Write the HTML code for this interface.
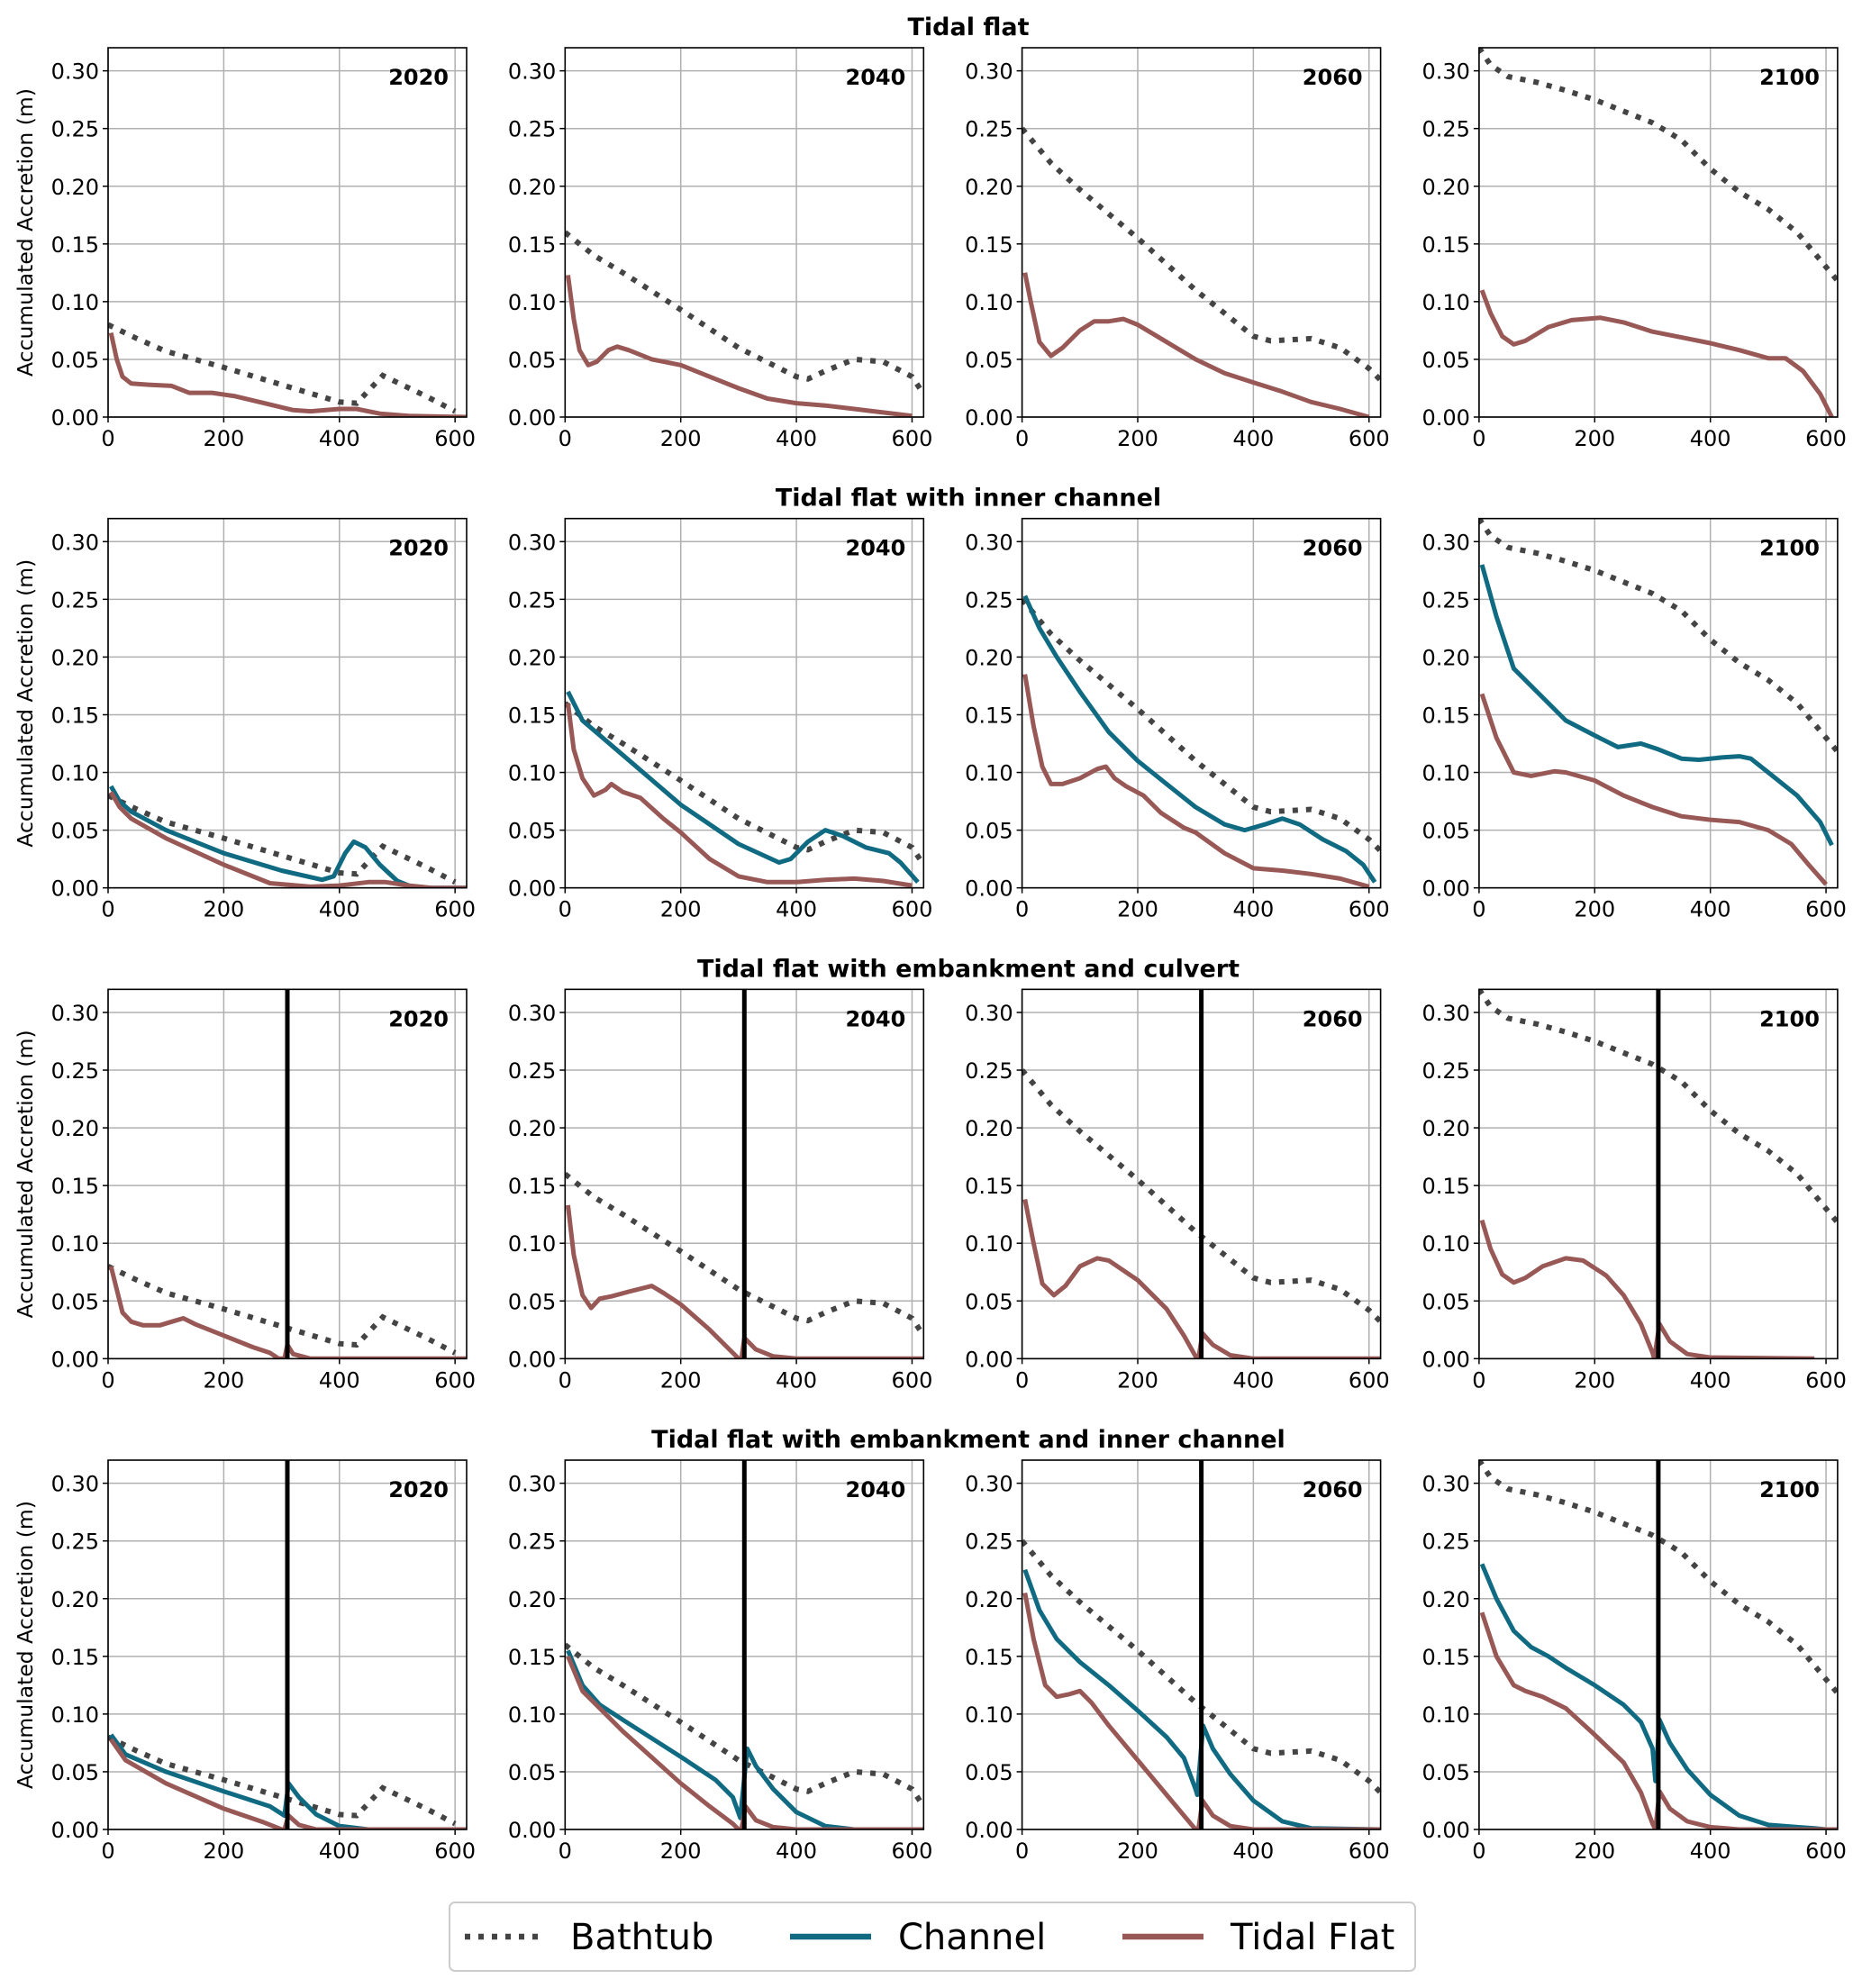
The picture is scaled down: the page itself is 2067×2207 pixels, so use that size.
<!DOCTYPE html>
<html><head><meta charset="utf-8"><style>
html,body{margin:0;padding:0;background:#fff;}
svg{display:block;font-family:"DejaVu Sans","Liberation Sans",sans-serif;}
</style></head><body>
<svg id="fig" width="2067" height="2207" viewBox="0 0 2067 2207" xmlns="http://www.w3.org/2000/svg"></svg>
<script>
// ---- data ----
const years = ["2020","2040","2060","2100"];
const rowTitles = ["Tidal flat","Tidal flat with inner channel","Tidal flat with embankment and culvert","Tidal flat with embankment and inner channel"];
const xTicks = [0,200,400,600];
const yTicks = [0,0.05,0.10,0.15,0.20,0.25,0.30];
const yTickLabels = ["0.00","0.05","0.10","0.15","0.20","0.25","0.30"];
const embankX = 310;
const embankRows = [2,3];

const bathX = [
 [0,50,100,200,300,400,430,475,500,550,600],
 [0,50,100,200,300,400,420,450,500,550,600,620],
 [0,50,100,200,300,400,430,500,550,600,620],
 [0,20,50,100,150,200,300,350,400,450,500,550,600,620]];
const bathY = [
 [0.08,0.068,0.057,0.043,0.028,0.013,0.012,0.036,0.030,0.018,0.005],
 [0.16,0.14,0.125,0.093,0.06,0.035,0.033,0.04,0.05,0.048,0.035,0.02],
 [0.25,0.22,0.197,0.155,0.11,0.07,0.066,0.068,0.06,0.042,0.032],
 [0.32,0.305,0.295,0.29,0.283,0.275,0.255,0.24,0.215,0.195,0.18,0.16,0.13,0.118]];

// row 1 tidal flat
const r1TidalX = [
 [5,15,25,40,70,110,140,180,220,270,320,350,400,430,470,520,620],
 [5,15,25,40,55,75,90,110,150,200,250,300,350,400,450,500,550,600],
 [5,15,30,50,70,100,125,150,175,200,250,300,350,400,450,500,550,600],
 [5,20,40,60,80,120,160,210,250,300,350,400,450,500,530,560,590,610]];
const r1TidalY = [
 [0.073,0.05,0.035,0.029,0.028,0.027,0.021,0.021,0.018,0.012,0.006,0.005,0.007,0.007,0.003,0.001,0.0],
 [0.123,0.085,0.058,0.045,0.048,0.058,0.061,0.058,0.05,0.045,0.035,0.025,0.016,0.012,0.01,0.007,0.004,0.001],
 [0.125,0.1,0.065,0.053,0.06,0.075,0.083,0.083,0.085,0.08,0.065,0.05,0.038,0.03,0.022,0.013,0.007,0.0],
 [0.11,0.09,0.07,0.063,0.066,0.078,0.084,0.086,0.082,0.074,0.069,0.064,0.058,0.051,0.051,0.04,0.02,0.0]];

// row 2
const r2ChanX = [
 [5,20,40,100,200,300,370,390,410,425,445,470,500,530,620],
 [5,30,100,200,300,370,390,420,450,480,520,560,580,610],
 [5,30,60,100,150,200,250,300,350,385,420,450,480,520,560,590,610],
 [5,30,60,100,150,200,240,280,310,350,380,420,450,470,500,550,590,610]];
const r2ChanY = [
 [0.088,0.075,0.066,0.05,0.03,0.015,0.007,0.01,0.03,0.04,0.035,0.02,0.006,0.0,0.0],
 [0.17,0.145,0.115,0.072,0.038,0.022,0.025,0.04,0.05,0.045,0.035,0.03,0.022,0.005],
 [0.253,0.225,0.2,0.17,0.135,0.11,0.09,0.07,0.055,0.05,0.055,0.06,0.055,0.042,0.032,0.02,0.005],
 [0.28,0.235,0.19,0.17,0.145,0.132,0.122,0.125,0.12,0.112,0.111,0.113,0.114,0.112,0.1,0.08,0.057,0.037]];
const r2TidalX = [
 [5,20,40,100,200,280,350,400,450,480,520,560,620],
 [5,15,30,50,70,80,100,130,170,200,250,300,350,400,450,500,550,600],
 [5,20,35,50,70,100,130,145,160,180,210,240,280,300,350,400,450,500,550,600],
 [5,30,60,90,130,150,200,250,300,350,400,450,500,540,570,600]];
const r2TidalY = [
 [0.083,0.07,0.06,0.043,0.02,0.004,0.001,0.002,0.005,0.005,0.002,0.0,0.0],
 [0.16,0.12,0.095,0.08,0.085,0.09,0.083,0.078,0.06,0.048,0.025,0.01,0.005,0.005,0.007,0.008,0.006,0.002],
 [0.185,0.14,0.105,0.09,0.09,0.095,0.103,0.105,0.095,0.088,0.08,0.065,0.052,0.048,0.03,0.017,0.015,0.012,0.008,0.001],
 [0.168,0.13,0.1,0.097,0.101,0.1,0.093,0.08,0.07,0.062,0.059,0.057,0.05,0.038,0.02,0.003]];

// row 3 (embankment + culvert)
const r3TidalX = [
 [5,15,25,40,60,90,110,130,150,200,250,280,295,305,310,320,350,620],
 [5,15,30,45,60,80,110,150,170,200,250,290,300,305,310,330,360,400,620],
 [5,20,35,55,75,100,130,150,200,250,280,300,305,312,330,360,400,620],
 [5,20,40,60,80,110,150,180,220,250,280,300,303,312,330,360,400,580]];
const r3TidalY = [
 [0.08,0.06,0.04,0.032,0.029,0.029,0.032,0.035,0.03,0.02,0.01,0.005,0.0,0.0,0.012,0.004,0.0,0.0],
 [0.133,0.09,0.055,0.044,0.052,0.054,0.058,0.063,0.057,0.047,0.025,0.005,0.0,0.0,0.018,0.008,0.002,0.0,0.0],
 [0.138,0.1,0.065,0.055,0.063,0.08,0.087,0.085,0.068,0.043,0.02,0.002,0.0,0.022,0.012,0.003,0.0,0.0],
 [0.12,0.095,0.073,0.066,0.07,0.08,0.087,0.085,0.072,0.055,0.03,0.005,0.0,0.03,0.015,0.004,0.001,0.0]];

// row 4 (embankment + inner channel)
const r4ChanX = [
 [5,30,100,200,280,305,312,330,360,400,450,620],
 [5,30,60,100,200,260,290,303,315,330,360,400,450,500,620],
 [5,30,60,100,150,200,250,280,300,303,313,330,360,400,450,500,620],
 [5,30,60,90,120,150,200,250,280,300,305,312,330,360,400,450,500,550,580,600]];
const r4ChanY = [
 [0.082,0.065,0.05,0.033,0.02,0.012,0.04,0.028,0.013,0.003,0.0,0.0],
 [0.155,0.125,0.108,0.095,0.063,0.043,0.028,0.01,0.07,0.055,0.035,0.015,0.003,0.0,0.0],
 [0.225,0.19,0.165,0.145,0.125,0.103,0.08,0.062,0.035,0.03,0.09,0.07,0.048,0.025,0.007,0.001,0.0],
 [0.23,0.2,0.172,0.158,0.15,0.14,0.125,0.108,0.093,0.07,0.042,0.095,0.075,0.052,0.03,0.012,0.004,0.002,0.001,0.0]];
const r4TidalX = [
 [5,30,100,200,270,300,305,312,330,360,620],
 [5,30,100,200,250,290,300,305,312,330,360,400,620],
 [5,20,40,60,80,100,120,150,200,250,280,300,305,312,330,360,400,620],
 [5,30,60,80,110,150,200,250,280,300,305,312,330,360,400,450,620]];
const r4TidalY = [
 [0.078,0.06,0.04,0.018,0.006,0.0,0.0,0.012,0.004,0.0,0.0],
 [0.15,0.12,0.085,0.04,0.02,0.005,0.0,0.0,0.02,0.008,0.002,0.0,0.0],
 [0.205,0.165,0.125,0.115,0.117,0.12,0.11,0.09,0.06,0.03,0.012,0.0,0.0,0.025,0.012,0.003,0.0,0.0],
 [0.188,0.15,0.125,0.12,0.115,0.105,0.082,0.058,0.032,0.005,0.0,0.033,0.018,0.007,0.002,0.0,0.0]];

const chanX = [null, r2ChanX, null, r4ChanX];
const chanY = [null, r2ChanY, null, r4ChanY];
const tidalX = [r1TidalX, r2TidalX, r3TidalX, r4TidalX];
const tidalY = [r1TidalY, r2TidalY, r3TidalY, r4TidalY];

// ---- layout ----
const NS = "http://www.w3.org/2000/svg";
const svg = document.getElementById("fig");
const L0 = 120, T0 = 53, PW = 398, PH = 410, DX = 507.3, DY = 522.67;
const XMAX = 620, YMAX = 0.32;
const COL_BATH = "#444444", COL_CHAN = "#0f6a82", COL_TIDAL = "#985856";

function mk(tag, attrs, parent) {
  const e = document.createElementNS(NS, tag);
  for (const k in attrs) e.setAttribute(k, attrs[k]);
  (parent || svg).appendChild(e);
  return e;
}

for (let r = 0; r < 4; r++) {
  const t = mk("text", {x: 1075, y: 39 + r * DY, "text-anchor": "middle", "font-size": 27, "font-weight": "bold", fill: "#000"});
  
  
  t.textContent = rowTitles[r];

  for (let c = 0; c < 4; c++) {
    const L = L0 + c * DX, T = T0 + r * DY;
    const sx = v => L + v / XMAX * PW;
    const sy = v => T + PH - v / YMAX * PH;
    const g = mk("g", {});
    
    
    const clipId = "clip" + r + c;
    const cp = mk("clipPath", {id: clipId}, g);
    mk("rect", {x: L, y: T, width: PW, height: PH}, cp);

    xTicks.forEach(v => {
      const gl = mk("line", {x1: sx(v), x2: sx(v), y1: T, y2: T + PH, stroke: "#b0b0b0", "stroke-width": 1.5}, g);
      
      
      const tk = mk("line", {x1: sx(v), x2: sx(v), y1: T + PH, y2: T + PH + 6, stroke: "#000", "stroke-width": 1.5}, g);
      
      
      const tl = mk("text", {x: sx(v), y: T + PH + 32, "text-anchor": "middle", "font-size": 24, fill: "#000"}, g);
      
      
      tl.textContent = String(v);
    });
    yTicks.forEach((v, i) => {
      const gl = mk("line", {x1: L, x2: L + PW, y1: sy(v), y2: sy(v), stroke: "#b0b0b0", "stroke-width": 1.5}, g);
      
      
      const tk = mk("line", {x1: L - 6, x2: L, y1: sy(v), y2: sy(v), stroke: "#000", "stroke-width": 1.5}, g);
      
      
      const tl = mk("text", {x: L - 10, y: sy(v) + 9, "text-anchor": "end", "font-size": 24, fill: "#000"}, g);
      
      
      tl.textContent = yTickLabels[i];
    });

    const plot = mk("g", {"clip-path": "url(#" + clipId + ")"}, g);
    const pts = (xs, ys) => xs.map((x, i) => sx(x).toFixed(1) + "," + sy(ys[i]).toFixed(1)).join(" ");

    const b = mk("polyline", {points: pts(bathX[c], bathY[c]), fill: "none", stroke: COL_BATH, "stroke-width": 6, "stroke-dasharray": "6,9"}, plot);
    
    

    if (chanX[r]) {
      const ch = mk("polyline", {points: pts(chanX[r][c], chanY[r][c]), fill: "none", stroke: COL_CHAN, "stroke-width": 5, "stroke-linejoin": "round"}, plot);
      
      
    }
    const td = mk("polyline", {points: pts(tidalX[r][c], tidalY[r][c]), fill: "none", stroke: COL_TIDAL, "stroke-width": 5, "stroke-linejoin": "round"}, plot);
    
    

    if (embankRows.includes(r)) {
      const em = mk("line", {x1: sx(embankX), x2: sx(embankX), y1: T, y2: T + PH, stroke: "#000", "stroke-width": 5}, plot);
      
      
    }

    const fr = mk("rect", {x: L, y: T, width: PW, height: PH, fill: "none", stroke: "#000", "stroke-width": 1.6}, g);
    
    

    const yl = mk("text", {x: L + PW - 20, y: T + 41, "text-anchor": "end", "font-size": 24, "font-weight": "bold", fill: "#000"}, g);
    
    
    yl.textContent = years[c];

    if (c === 0) {
      const cy = T + PH / 2;
      const ya = mk("text", {x: 36, y: cy, transform: "rotate(-90 36 " + cy + ")", "text-anchor": "middle", "font-size": 23.5, fill: "#000"}, g);
      
      
      ya.textContent = "Accumulated Accretion (m)";
    }
  }
}

// legend
const lg = mk("g", {});


const lbox = mk("rect", {x: 499, y: 2112, width: 1072, height: 76, rx: 6, fill: "#fff", stroke: "#cccccc", "stroke-width": 2}, lg);


const legItems = [
  {name: "Bathtub", col: COL_BATH, dash: "6,9", x1: 516, x2: 600, tx: 633},
  {name: "Channel", col: COL_CHAN, dash: "", x1: 877, x2: 967, tx: 997},
  {name: "Tidal Flat", col: COL_TIDAL, dash: "", x1: 1246, x2: 1336, tx: 1366}];
legItems.forEach(it => {
  const ln = mk("line", {x1: it.x1, x2: it.x2, y1: 2150, y2: 2150, stroke: it.col, "stroke-width": 6.5, "stroke-dasharray": it.dash}, lg);
  
  
  const tx = mk("text", {x: it.tx, y: 2164, "font-size": 40, fill: "#000"}, lg);
  
  
  tx.textContent = it.name;
});
</script>
</body></html>
